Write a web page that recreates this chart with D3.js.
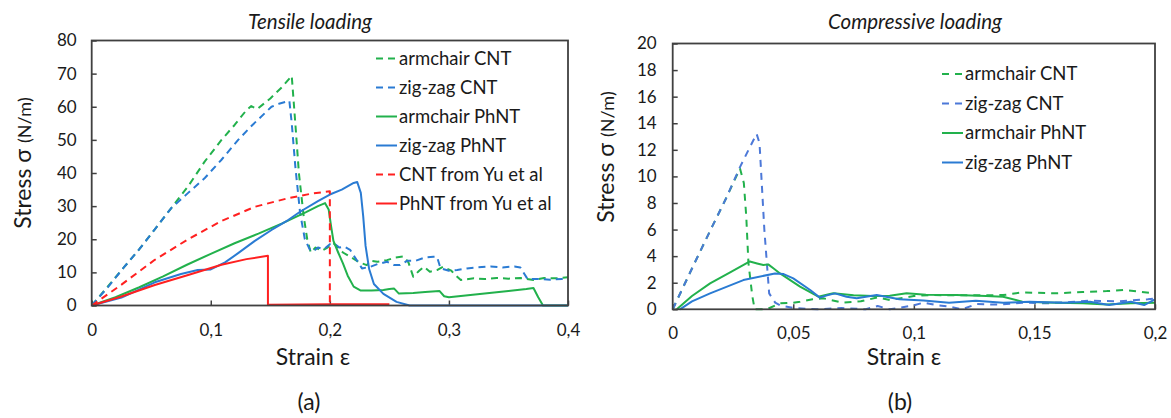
<!DOCTYPE html>
<html>
<head>
<meta charset="utf-8">
<script src="https://d3js.org/d3.v7.min.js"></script>
<style>
  body { margin: 0; background: #fff; }
  text { font-family: Lato, "Open Sans", sans-serif; fill: #1a1a1a; }
</style>
</head>
<body>
<div id="chart"></div>
<script>
// ---- Tensile loading data (strain, stress N/m) ----
var tArmchairCNT = [[0,0],[0.013,5.5],[0.027,11.5],[0.04,17],[0.053,23],[0.067,29.5],[0.081,36],[0.095,43.5],[0.109,50],[0.12,54.5],[0.13,59],[0.134,60.2],[0.139,59.3],[0.15,62.5],[0.16,66],[0.168,69.3],[0.171,55],[0.174,40],[0.178,27],[0.181,20],[0.184,16],[0.188,17.5],[0.193,16.5],[0.198,17.5],[0.203,18.8],[0.207,17.5],[0.211,16],[0.218,14.5],[0.225,13],[0.231,12.2],[0.234,13.5],[0.24,13.2],[0.248,13.7],[0.255,14.5],[0.262,14.8],[0.266,13],[0.27,8.7],[0.275,10.5],[0.279,11.7],[0.284,10.2],[0.29,10.7],[0.295,11.7],[0.302,10.5],[0.306,9],[0.31,7.7],[0.321,8.2],[0.33,8],[0.34,8.3],[0.35,8.1],[0.36,8.3],[0.371,7.7],[0.38,8.3],[0.39,8.2],[0.4,8.5]];
var tZigzagCNT = [[0,0],[0.014,5.7],[0.027,11.5],[0.04,17],[0.053,23],[0.067,29.5],[0.081,34],[0.095,38.5],[0.109,44],[0.123,50],[0.135,54.5],[0.151,60],[0.158,61],[0.166,61.8],[0.168,55],[0.171,42],[0.175,28],[0.179,20],[0.183,17],[0.186,16.3],[0.19,17.5],[0.195,17],[0.2,18.5],[0.203,18.8],[0.208,17.5],[0.212,17.8],[0.217,16.8],[0.222,14],[0.227,11.2],[0.234,11.7],[0.24,12.5],[0.248,13.2],[0.254,12.2],[0.259,12.2],[0.265,13.5],[0.272,13.5],[0.28,14.5],[0.287,14.7],[0.29,14.7],[0.293,11.2],[0.3,10.5],[0.307,10.7],[0.315,11.2],[0.324,11.5],[0.335,11.8],[0.345,11.5],[0.355,11.8],[0.36,11.5],[0.366,8],[0.375,8],[0.385,7.8],[0.395,8],[0.4,8]];
var tArmchairPhNT = [[0,0],[0.02,2.5],[0.04,5.5],[0.06,8.8],[0.08,12.3],[0.1,15.6],[0.12,18.8],[0.14,21.7],[0.16,24.8],[0.18,28.2],[0.19,30],[0.196,30.9],[0.199,29],[0.201,24],[0.203,19.5],[0.207,16],[0.211,12.7],[0.215,9],[0.22,5.7],[0.226,4.5],[0.235,4.5],[0.245,4.7],[0.25,5],[0.254,5.1],[0.258,3.6],[0.27,3.8],[0.28,4.1],[0.292,4.4],[0.296,2.8],[0.3,2.5],[0.31,2.9],[0.33,3.6],[0.35,4.4],[0.365,5],[0.371,5.3],[0.375,2.5],[0.379,0],[0.4,0]];
var tZigzagPhNT = [[0,0],[0.025,2.4],[0.053,7],[0.075,9.5],[0.089,10.7],[0.1,10.9],[0.112,13],[0.123,15.8],[0.137,19.5],[0.151,22.8],[0.165,25.8],[0.175,28.3],[0.19,31.5],[0.2,33.5],[0.21,35],[0.22,37],[0.223,37.3],[0.226,34],[0.228,27],[0.23,18],[0.233,11],[0.237,6.5],[0.245,3.5],[0.256,1.1],[0.267,0],[0.4,0]];
var tCNTYu = [[0,0],[0.025,6.3],[0.053,13.8],[0.081,20],[0.109,25.5],[0.137,29.8],[0.165,32.4],[0.185,33.8],[0.2,34.5],[0.2,0]];
var tPhNTYu = [[0,0],[0.025,2.7],[0.053,6.2],[0.081,9.2],[0.109,12.3],[0.13,14],[0.148,15],[0.148,0.2],[0.2,0.4],[0.25,0.4]];

// ---- Compressive loading data ----
var cArmchairCNT = [[0,0],[0.0086,3.3],[0.0155,5.9],[0.022,8.3],[0.0279,10.6],[0.0295,9.5],[0.0305,7],[0.0314,3.5],[0.033,1],[0.034,0],[0.039,0],[0.0445,0.45],[0.05,0.5],[0.0528,0.57],[0.058,0.75],[0.0624,0.83],[0.0707,0.5],[0.078,0.6],[0.085,0.9],[0.09,0.7],[0.1,1.0],[0.107,1.07],[0.12,1.05],[0.137,1.07],[0.145,1.27],[0.159,1.2],[0.17,1.3],[0.18,1.37],[0.187,1.45],[0.1965,1.27],[0.2,1.2]];
var cZigzagCNT = [[0,0],[0.0086,3.3],[0.0155,5.9],[0.022,8.3],[0.0279,10.7],[0.032,12.2],[0.0348,13.2],[0.036,12.5],[0.038,6],[0.04,1.2],[0.0425,0.5],[0.0445,0.3],[0.05,0.1],[0.06,0],[0.07,0.1],[0.08,0],[0.085,0.25],[0.09,0],[0.1,0.3],[0.104,0.5],[0.11,0.3],[0.115,0.2],[0.12,0],[0.126,0.4],[0.135,0.35],[0.145,0.5],[0.155,0.45],[0.165,0.55],[0.173,0.65],[0.185,0.6],[0.197,0.75],[0.2,0.8]];
var cArmchairPhNT = [[0.0017,0],[0.008,1],[0.0155,1.95],[0.024,2.8],[0.032,3.6],[0.035,3.45],[0.0376,3.33],[0.0396,3.38],[0.042,3.05],[0.0445,2.7],[0.0528,1.7],[0.0604,0.95],[0.0652,1.15],[0.0666,1.2],[0.075,1.05],[0.083,1.0],[0.09,1.02],[0.097,1.2],[0.105,1.1],[0.1177,1.07],[0.13,1.0],[0.137,0.95],[0.145,0.57],[0.159,0.5],[0.17,0.45],[0.18,0.37],[0.19,0.45],[0.2,0.5]];
var cZigzagPhNT = [[0.003,0],[0.008,0.6],[0.0155,1.2],[0.0293,2.2],[0.0424,2.7],[0.046,2.65],[0.05,2.33],[0.057,1.45],[0.061,0.88],[0.064,1.05],[0.0673,1.2],[0.0721,0.95],[0.0763,0.83],[0.0846,1.07],[0.094,0.75],[0.104,0.67],[0.1146,0.5],[0.1257,0.65],[0.137,0.5],[0.148,0.57],[0.162,0.5],[0.173,0.57],[0.181,0.32],[0.19,0.57],[0.1955,0.32],[0.2,0.75]];

// Tick values
var tXTicks = [0, 0.1, 0.2, 0.3, 0.4];
var tYTicks = [0, 10, 20, 30, 40, 50, 60, 70, 80];
var cXTicks = [0, 0.05, 0.1, 0.15, 0.2];
var cYTicks = [0, 2, 4, 6, 8, 10, 12, 14, 16, 18, 20];

// Colours
var green = "#22b14c";
var blue = "#2a7bd3";
var blueDash = "#4c78d8";
var red = "#ff2020";

var svg = d3.select("#chart")
    .append("svg")
    .attr("width", 1171)
    .attr("height", 418);

svg.append("rect").attr("width", 1171).attr("height", 418).attr("fill", "#fff");

var commaFmt = d => String(d).replace(".", ",");

// Draws one panel: frame, axes, lines, legend and labels
function drawPanel(p) {
    var x = d3.scaleLinear().domain(p.xDomain).range(p.xRange);
    var y = d3.scaleLinear().domain(p.yDomain).range(p.yRange);
    var g = svg.append("g");

    // y axis with inward ticks
    g.append("g")
        .attr("transform", `translate(${p.xRange[0]},0)`)
        .call(d3.axisLeft(y).tickValues(p.yTicks).tickSizeInner(-5).tickSizeOuter(0).tickPadding(p.yPad))
        .call(a => a.select(".domain").remove())
        .call(a => a.selectAll("line").attr("stroke", "#404040").attr("stroke-width", 1.5))
        .call(a => a.selectAll("text").style("font-size", "17px").style("font-family", "Lato, sans-serif").attr("fill", "#1a1a1a"));

    // x axis with inward ticks
    g.append("g")
        .attr("transform", `translate(0,${p.yRange[0]})`)
        .call(d3.axisBottom(x).tickValues(p.xTicks).tickFormat(commaFmt).tickSizeInner(-5).tickSizeOuter(0).tickPadding(18))
        .call(a => a.select(".domain").remove())
        .call(a => a.selectAll("line").attr("stroke", "#404040").attr("stroke-width", 1.5))
        .call(a => a.selectAll("text").style("font-size", "17px").style("font-family", "Lato, sans-serif").attr("fill", "#1a1a1a"));

    var line = d3.line().x(d => x(d[0])).y(d => y(d[1]));

    // series lines
    p.series.forEach(function(s) {
        g.append("path")
            .datum(s.data)
            .attr("d", line)
            .attr("fill", "none")
            .attr("stroke", s.color)
            .attr("stroke-width", 2)
            .attr("stroke-dasharray", s.dash ? p.dash : null)
            .attr("stroke-linejoin", "round");
    });

    // frame
    g.append("rect")
        .attr("x", p.xRange[0])
        .attr("y", p.yRange[1])
        .attr("width", p.xRange[1] - p.xRange[0])
        .attr("height", p.yRange[0] - p.yRange[1])
        .attr("fill", "none")
        .attr("stroke", "#404040")
        .attr("stroke-width", 1.8);

    // legend
    p.series.forEach(function(s, i) {
        var ly = p.legY + i * p.legStep;
        g.append("line")
            .attr("x1", p.legX).attr("x2", p.legX + 21)
            .attr("y1", ly).attr("y2", ly)
            .attr("stroke", s.color)
            .attr("stroke-width", 2)
            .attr("stroke-dasharray", s.dash ? p.dash : null);
        g.append("text")
            .attr("x", p.legX + 23)
            .attr("y", ly)
            .attr("dy", "0.35em")
            .style("font-size", "18.5px")
            .text(s.name);
    });

    // title
    g.append("text")
        .attr("x", p.titleX)
        .attr("y", 29)
        .attr("text-anchor", "middle")
        .style("font-size", "20.5px")
        .style("font-style", "italic")
        .text(p.title);

    // x axis title
    g.append("text")
        .attr("x", p.xTitleX)
        .attr("y", 365)
        .attr("text-anchor", "middle")
        .style("font-size", "23px")
        .text("Strain ε");

    // panel tag
    g.append("text")
        .attr("x", p.xTitleX - 4)
        .attr("y", 410)
        .attr("text-anchor", "middle")
        .style("font-size", "23px")
        .text(p.tag);

    // y axis title
    var yt = g.append("text")
        .attr("transform", `translate(${p.yTitleX},${p.yTitleY}) rotate(-90)`)
        .attr("text-anchor", "middle");
    yt.append("tspan").style("font-size", "23px").text("Stress σ ");
    yt.append("tspan").style("font-size", "18px").text("(N/m)");
}

drawPanel({
    xDomain: [0, 0.4], xRange: [91.7, 568],
    yDomain: [0, 80], yRange: [305.5, 40.5],
    xTicks: tXTicks, yTicks: tYTicks, yPad: 15,
    dash: "7,5",
    legX: 376, legY: 58.5, legStep: 29,
    title: "Tensile loading", titleX: 310,
    xTitleX: 313, tag: "(a)",
    yTitleX: 31, yTitleY: 163,
    series: [
        { name: "armchair CNT", data: tArmchairCNT, color: green, dash: true },
        { name: "zig-zag CNT", data: tZigzagCNT, color: blue, dash: true },
        { name: "armchair PhNT", data: tArmchairPhNT, color: green, dash: false },
        { name: "zig-zag PhNT", data: tZigzagPhNT, color: blue, dash: false },
        { name: "CNT from  Yu et al", data: tCNTYu, color: red, dash: true },
        { name: "PhNT from Yu et al", data: tPhNTYu, color: red, dash: false }
    ]
});

drawPanel({
    xDomain: [0, 0.2], xRange: [672.7, 1155],
    yDomain: [0, 20], yRange: [309.3, 43.5],
    xTicks: cXTicks, yTicks: cYTicks, yPad: 16,
    dash: "7,6",
    legX: 942, legY: 74, legStep: 29.5,
    title: "Compressive loading", titleX: 915,
    xTitleX: 904, tag: "(b)",
    yTitleX: 614, yTitleY: 157,
    series: [
        { name: "armchair CNT", data: cArmchairCNT, color: green, dash: true },
        { name: "zig-zag CNT", data: cZigzagCNT, color: blueDash, dash: true },
        { name: "armchair PhNT", data: cArmchairPhNT, color: green, dash: false },
        { name: "zig-zag PhNT", data: cZigzagPhNT, color: blue, dash: false }
    ]
});
</script>
</body>
</html>
